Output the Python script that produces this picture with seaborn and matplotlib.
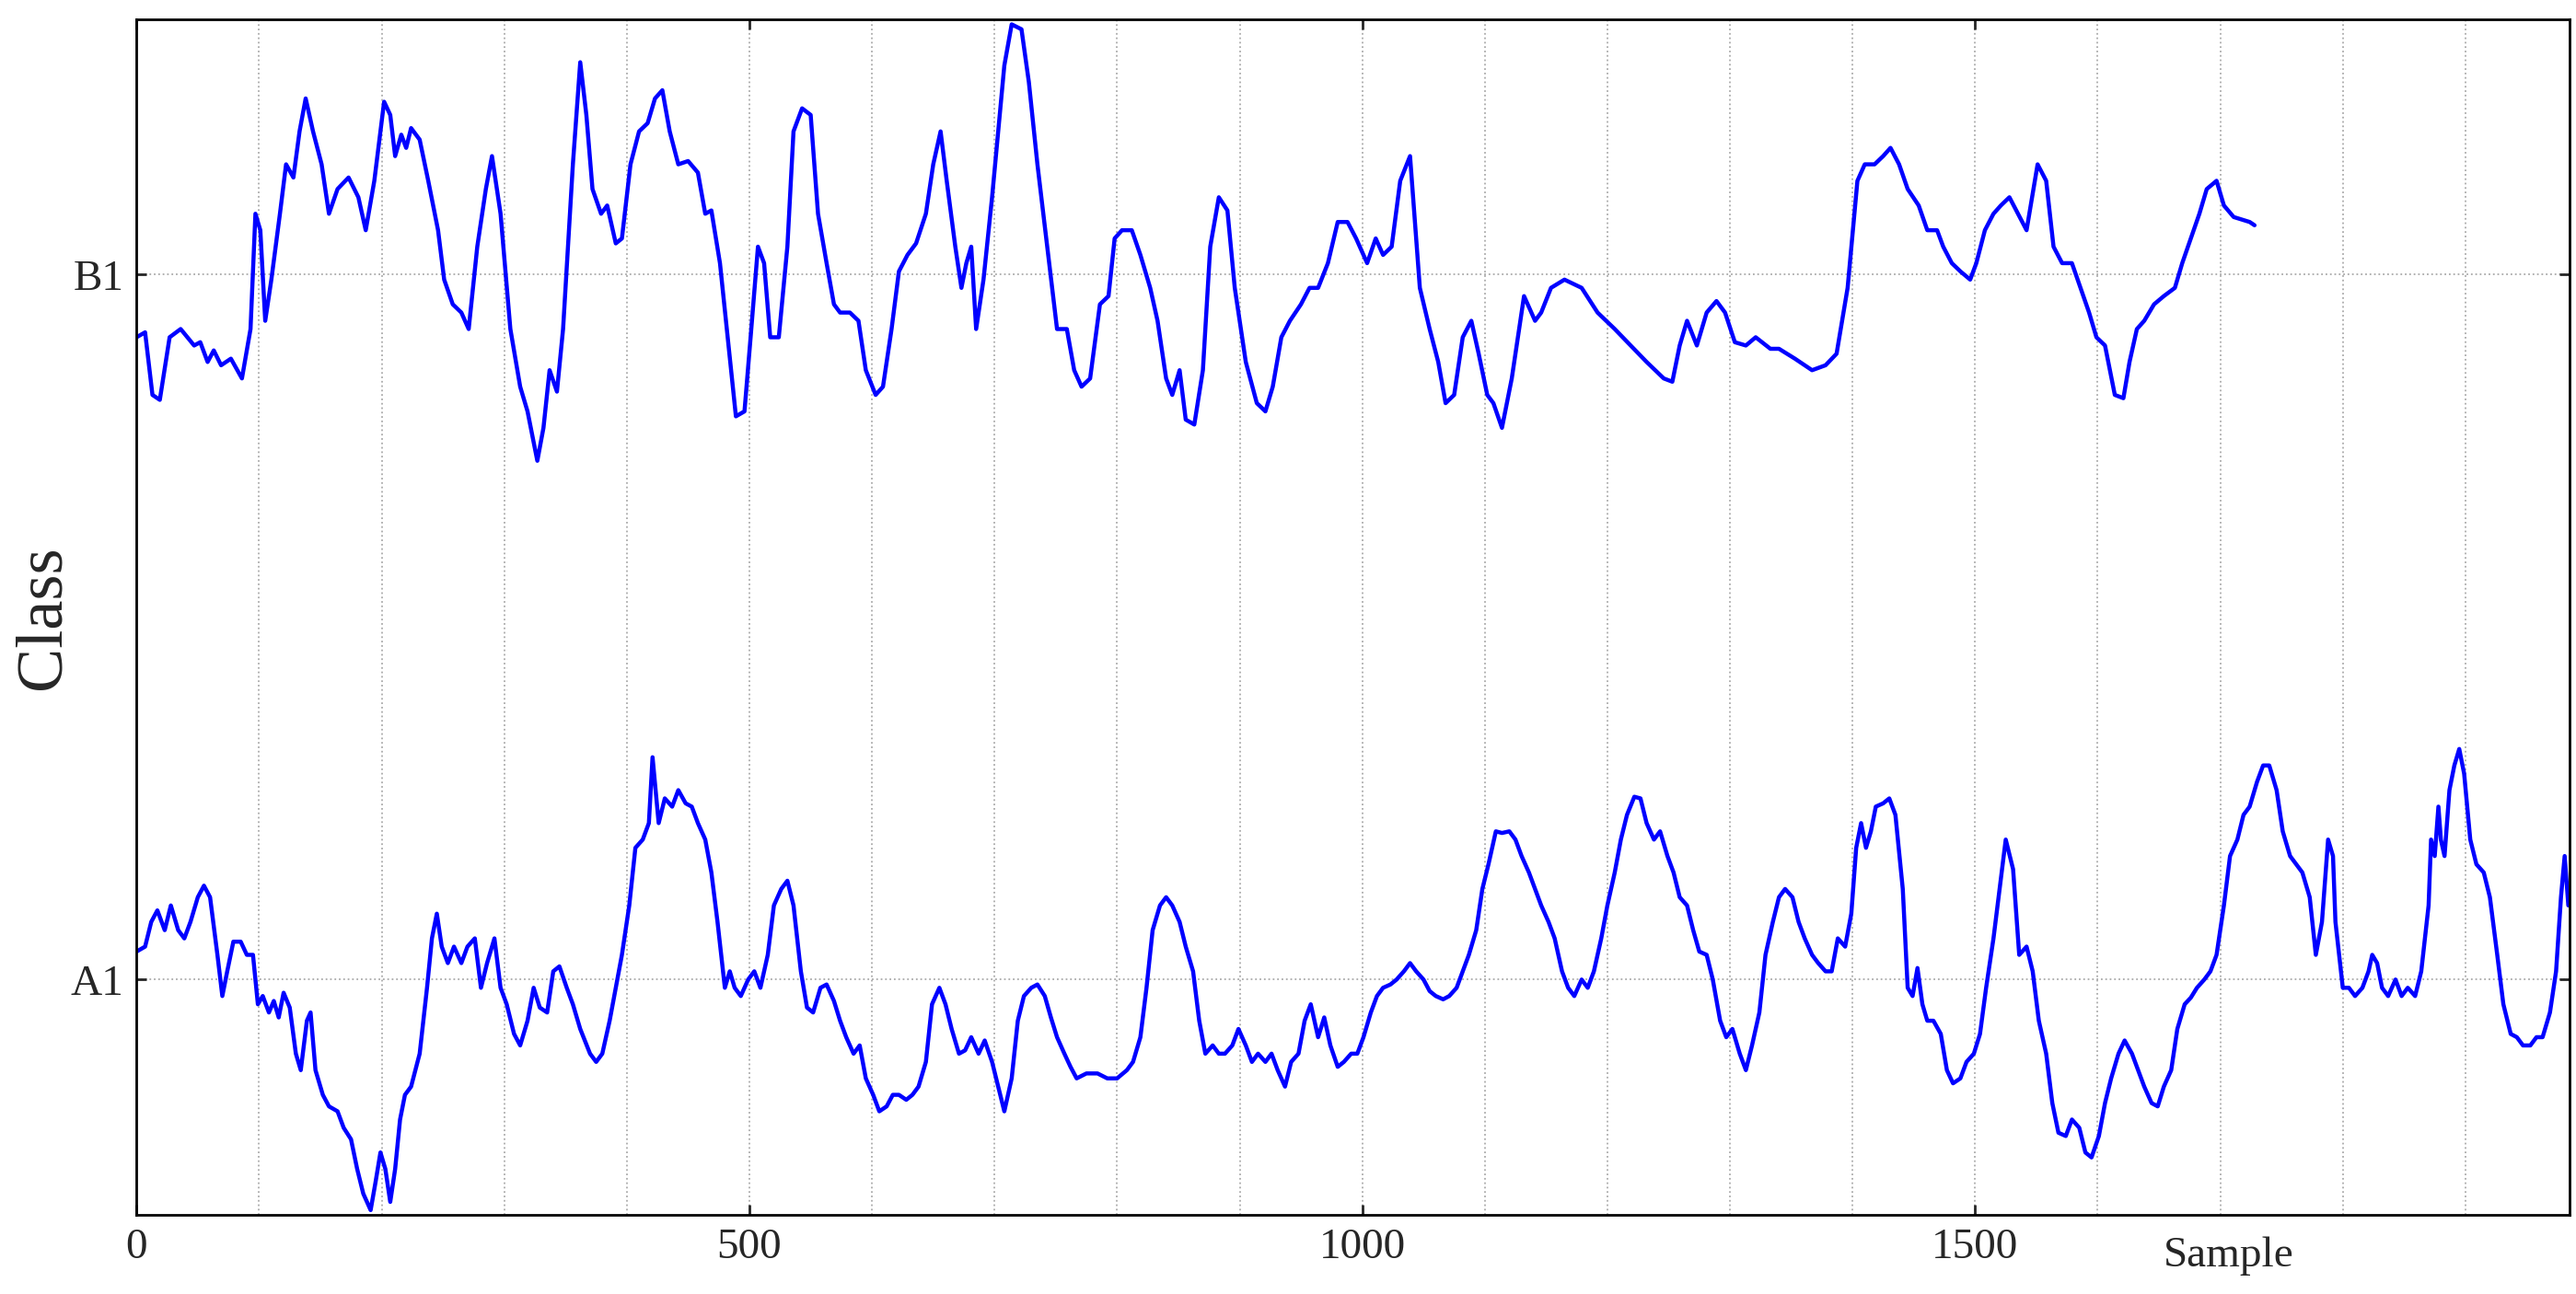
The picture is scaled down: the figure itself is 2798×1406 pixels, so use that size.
import numpy as np
import pandas as pd
import matplotlib
matplotlib.use('Agg')
import matplotlib.pyplot as plt
from matplotlib.ticker import MultipleLocator
import seaborn as sns

# class levels on the y axis (arbitrary units, A1 at 0, B1 at 428)
class_names = ['A1', 'B1']
class_levels = [0, 428]

# B1 trace: (sample, level)
b1_points = [
    (0, 390), (7, 393), (13, 355), (19, 352), (27, 390), (36, 395), (47, 385), (52, 387), (58, 375), (63, 382),
    (69, 373), (77, 377), (86, 365), (93, 395), (97, 465), (101, 455), (105, 400), (110, 425), (117, 465), (122, 495),
    (128, 487), (133, 515), (138, 535), (144, 515), (151, 495), (157, 465), (164, 480), (173, 487), (181, 475), (187, 455),
    (194, 485), (202, 533), (207, 525), (211, 500), (216, 513), (220, 505), (224, 517), (231, 510), (238, 485), (246, 455),
    (251, 425), (258, 410), (265, 405), (271, 395), (278, 445), (285, 480), (290, 500), (297, 465), (305, 395), (313, 360),
    (319, 345), (327, 315), (332, 335), (337, 370), (343, 357), (348, 395), (356, 495), (362, 557), (367, 525), (372, 480),
    (379, 465), (384, 470), (391, 447), (396, 450), (403, 495), (410, 515), (417, 520), (423, 535), (429, 540), (435, 515),
    (442, 495), (450, 497), (458, 490), (464, 465), (469, 467), (476, 435), (483, 385), (489, 342), (496, 345), (501, 390),
    (507, 445), (512, 435), (517, 390), (524, 390), (531, 445), (536, 515), (543, 529), (550, 525), (556, 465), (563, 435),
    (569, 410), (574, 405), (582, 405), (589, 400), (595, 370), (603, 355), (609, 360), (616, 395), (622, 430), (629, 440),
    (636, 447), (644, 465), (650, 495), (656, 515), (661, 485), (668, 445), (673, 420), (677, 435), (681, 445), (685, 395),
    (691, 425), (698, 475), (703, 515), (708, 555), (714, 580), (722, 577), (728, 545), (735, 495), (743, 445), (751, 395),
    (759, 395), (765, 370), (771, 360), (778, 365), (786, 410), (793, 415), (798, 450), (804, 455), (812, 455), (819, 440),
    (827, 420), (833, 400), (840, 365), (845, 355), (851, 370), (856, 340), (863, 337), (870, 370), (876, 445), (883, 475),
    (890, 467), (896, 420), (905, 375), (914, 350), (921, 345), (927, 360), (934, 390), (941, 400), (950, 410), (957, 420),
    (964, 420), (972, 435), (980, 460), (988, 460), (995, 450), (1004, 435), (1011, 450), (1017, 440), (1024, 445), (1031, 485),
    (1039, 500), (1047, 420), (1055, 395), (1062, 375), (1068, 350), (1075, 355), (1082, 390), (1089, 400), (1095, 380), (1102, 355),
    (1107, 350), (1114, 335), (1122, 365), (1132, 415), (1141, 400), (1146, 405), (1154, 420), (1165, 425), (1179, 420), (1192, 405),
    (1206, 395), (1219, 385), (1232, 375), (1246, 365), (1253, 363), (1259, 385), (1265, 400), (1273, 385), (1281, 405), (1289, 412),
    (1296, 405), (1304, 387), (1313, 385), (1321, 390), (1333, 383), (1340, 383), (1353, 377), (1367, 370), (1378, 373), (1387, 380),
    (1396, 420), (1404, 485), (1410, 495), (1418, 495), (1425, 500), (1431, 505), (1438, 495), (1445, 480), (1454, 470), (1461, 455),
    (1469, 455), (1474, 445), (1481, 435), (1488, 430), (1496, 425), (1501, 435), (1508, 455), (1515, 465), (1521, 470), (1528, 475),
    (1535, 465), (1542, 455), (1551, 495), (1558, 485), (1564, 445), (1571, 435), (1579, 435), (1586, 420), (1593, 405), (1599, 390),
    (1606, 385), (1614, 355), (1621, 353), (1626, 375), (1632, 395), (1638, 400), (1646, 410), (1654, 415), (1663, 420), (1669, 435),
    (1676, 450), (1683, 465), (1689, 480), (1697, 485), (1703, 470), (1711, 463), (1724, 460), (1728, 458),
]

# A1 trace: (sample, level)
a1_points = [
    (0, 17), (7, 20), (12, 35), (17, 42), (23, 30), (28, 45), (34, 30), (39, 25), (44, 35), (50, 50),
    (55, 57), (60, 50), (66, 15), (70, -10), (74, 5), (79, 23), (85, 23), (90, 15), (95, 15), (99, -15),
    (103, -10), (108, -20), (112, -13), (116, -23), (120, -8), (125, -17), (130, -45), (134, -55), (139, -25), (142, -20),
    (146, -55), (152, -70), (157, -77), (164, -80), (169, -90), (175, -97), (180, -115), (185, -130), (191, -140), (195, -123),
    (199, -105), (203, -115), (207, -135), (211, -115), (215, -85), (219, -70), (224, -65), (231, -45), (237, -5), (241, 25),
    (245, 40), (249, 20), (254, 10), (259, 20), (265, 10), (270, 20), (276, 25), (281, -5), (286, 10), (292, 25),
    (297, -5), (302, -15), (308, -33), (313, -40), (319, -25), (324, -5), (329, -17), (335, -20), (340, 5), (345, 8),
    (351, -5), (356, -15), (362, -30), (370, -45), (375, -50), (380, -45), (386, -25), (391, -5), (396, 15), (402, 45),
    (407, 80), (413, 85), (418, 95), (421, 135), (426, 95), (431, 110), (437, 105), (442, 115), (448, 107), (453, 105),
    (458, 95), (464, 85), (469, 65), (474, 35), (480, -5), (484, 5), (488, -5), (493, -10), (499, 0), (504, 5),
    (509, -5), (515, 15), (520, 45), (526, 55), (531, 60), (536, 45), (542, 5), (547, -17), (552, -20), (558, -5),
    (563, -3), (569, -13), (574, -25), (579, -35), (585, -45), (590, -40), (595, -60), (601, -70), (606, -80), (612, -77),
    (617, -70), (622, -70), (628, -73), (633, -70), (638, -65), (644, -50), (649, -15), (655, -5), (660, -15), (665, -30),
    (671, -45), (676, -43), (681, -35), (687, -45), (692, -37), (698, -50), (703, -65), (708, -80), (714, -60), (719, -25),
    (724, -10), (730, -5), (735, -3), (741, -10), (746, -23), (751, -35), (757, -45), (762, -53), (767, -60), (775, -57),
    (784, -57), (792, -60), (800, -60), (808, -55), (813, -50), (819, -35), (824, -5), (829, 30), (835, 45), (840, 50),
    (845, 45), (851, 35), (856, 20), (862, 5), (867, -25), (872, -45), (878, -40), (883, -45), (888, -45), (894, -40),
    (899, -30), (905, -40), (910, -50), (915, -45), (921, -50), (926, -45), (931, -55), (937, -65), (942, -50), (948, -45),
    (953, -25), (958, -15), (964, -35), (969, -23), (974, -40), (980, -53), (985, -50), (991, -45), (996, -45), (1001, -35),
    (1007, -20), (1012, -10), (1017, -5), (1023, -3), (1028, 0), (1034, 5), (1039, 10), (1044, 5), (1050, 0), (1055, -7),
    (1060, -10), (1066, -12), (1071, -10), (1077, -5), (1082, 5), (1087, 15), (1093, 30), (1098, 55), (1103, 70), (1109, 90),
    (1114, 89), (1120, 90), (1125, 85), (1130, 75), (1136, 65), (1141, 55), (1146, 45), (1152, 35), (1157, 25), (1163, 5),
    (1168, -5), (1173, -10), (1179, 0), (1184, -5), (1189, 5), (1195, 25), (1200, 45), (1206, 65), (1211, 85), (1216, 100),
    (1222, 111), (1227, 110), (1232, 95), (1238, 85), (1243, 90), (1249, 75), (1254, 65), (1259, 50), (1265, 45), (1270, 30),
    (1275, 17), (1281, 15), (1286, 0), (1292, -25), (1297, -35), (1302, -30), (1308, -45), (1313, -55), (1318, -40), (1324, -20),
    (1329, 15), (1335, 35), (1340, 50), (1345, 55), (1351, 50), (1356, 35), (1361, 25), (1367, 15), (1372, 10), (1378, 5),
    (1383, 5), (1388, 25), (1394, 20), (1399, 40), (1403, 80), (1407, 95), (1411, 80), (1415, 90), (1419, 105), (1425, 107),
    (1430, 110), (1435, 100), (1441, 55), (1445, -5), (1449, -10), (1453, 7), (1457, -15), (1461, -25), (1466, -25), (1472, -33),
    (1477, -55), (1482, -63), (1488, -60), (1493, -50), (1499, -45), (1504, -33), (1509, -5), (1515, 25), (1520, 55), (1525, 85),
    (1531, 67), (1536, 15), (1542, 20), (1547, 5), (1552, -25), (1558, -45), (1563, -75), (1568, -93), (1574, -95), (1579, -85),
    (1585, -90), (1590, -105), (1595, -108), (1601, -95), (1606, -75), (1611, -60), (1617, -45), (1622, -37), (1628, -45), (1633, -55),
    (1638, -65), (1644, -75), (1649, -77), (1654, -65), (1660, -55), (1665, -30), (1671, -15), (1676, -11), (1681, -5), (1687, 0),
    (1692, 5), (1697, 15), (1703, 45), (1708, 75), (1714, 85), (1719, 100), (1724, 105), (1730, 120), (1735, 130), (1740, 130),
    (1746, 115), (1751, 90), (1757, 75), (1762, 70), (1767, 65), (1773, 50), (1778, 15), (1783, 35), (1788, 85), (1792, 75),
    (1794, 35), (1800, -5), (1805, -5), (1810, -10), (1816, -5), (1821, 5), (1824, 15), (1828, 10), (1832, -5), (1837, -10),
    (1843, 0), (1848, -10), (1853, -5), (1859, -10), (1864, 5), (1870, 45), (1872, 85), (1875, 75), (1878, 105), (1880, 85),
    (1883, 75), (1887, 115), (1891, 130), (1895, 140), (1899, 125), (1904, 85), (1909, 70), (1915, 65), (1920, 50), (1926, 15),
    (1931, -15), (1937, -33), (1942, -35), (1947, -40), (1953, -40), (1958, -35), (1963, -35), (1969, -20), (1974, 5), (1978, 50),
    (1981, 75), (1984, 45),
]

b1_sample, b1_level = map(list, zip(*b1_points))
a1_sample, a1_level = map(list, zip(*a1_points))

x_max = 1985
y_min, y_max = -143, 583

sns.set_style('ticks')
plt.rcParams['font.family'] = ['Liberation Serif', 'DejaVu Serif']

fig = plt.figure(figsize=(27.98, 14.06), dpi=100)
ax = fig.add_axes([0.053, 0.061, 0.9445, 0.924])

for xs, ys in [(b1_sample, b1_level), (a1_sample, a1_level)]:
    df = pd.DataFrame({'Sample': xs, 'level': ys})
    sns.lineplot(data=df, x='Sample', y='level', ax=ax, color='#0000ff',
                 linewidth=3.2, sort=False, estimator=None)

ax.set_xlim(0, x_max)
ax.set_ylim(y_min, y_max)
ax.xaxis.set_major_locator(MultipleLocator(500))
ax.xaxis.set_minor_locator(MultipleLocator(100))
ax.set_yticks(class_levels)
ax.set_yticklabels(class_names)

ax.grid(True, which='both', axis='x', color='#aaaaaa', linestyle=':', linewidth=1.3)
ax.grid(True, which='major', axis='y', color='#aaaaaa', linestyle=':', linewidth=1.3)
ax.tick_params(which='both', direction='in', top=True, right=True, labelsize=34, pad=10)
ax.tick_params(which='major', length=8, width=2)
ax.tick_params(which='minor', length=0)
for s in ax.spines.values():
    s.set_linewidth(2)
    s.set_color('black')

ax.set_ylabel('Class', fontsize=52)
ax.yaxis.set_label_coords(-0.026, 0.5)
ax.set_xlabel('Sample', fontsize=34)
ax.xaxis.set_label_coords(0.86, -0.018)

fig.savefig('out.png', dpi=100)
